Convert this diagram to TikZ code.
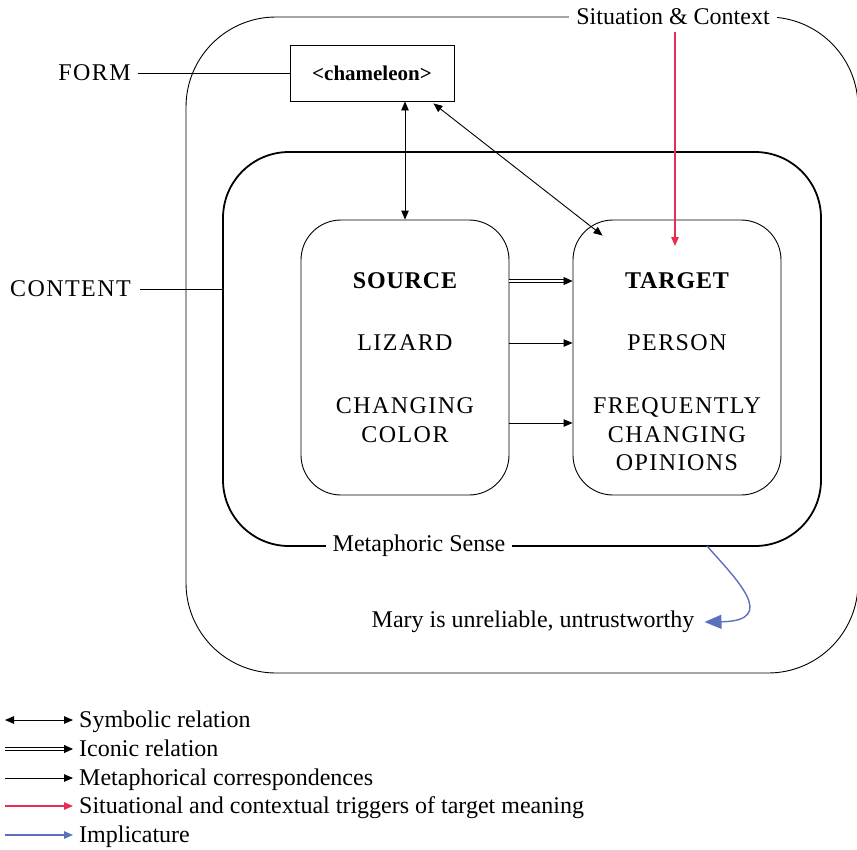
\documentclass[tikz,border=0pt]{standalone}
\usepackage{fontspec}
\setmainfont{Liberation Serif}
\usetikzlibrary{arrows.meta,calc}
\definecolor{trigred}{RGB}{232,44,84}
\definecolor{implblue}{RGB}{92,112,190}
\begin{document}
\begin{tikzpicture}[x=1pt,y=-1pt,
  txt/.style={font=\fontsize{24}{28}\selectfont, inner sep=0pt},
  capstxt/.style={font=\fontsize{24}{28}\selectfont\addfontfeatures{LetterSpace=6}, inner sep=0pt, anchor=base},
  capshead/.style={font=\fontsize{24}{28}\selectfont\bfseries\addfontfeatures{LetterSpace=3.5}, inner sep=0pt, anchor=base},
  labelgap/.style={txt, fill=white, inner xsep=7pt, inner ysep=2pt},
  keytxt/.style={txt, anchor=base west},
  oneway/.style={line width=0.9pt, -{Triangle[length=9pt,width=7.5pt]}},
  twoway/.style={line width=0.9pt, {Triangle[length=9pt,width=7.5pt]}-{Triangle[length=9pt,width=7.5pt]}},
  iconic/.style={double, double distance=2.2pt, line width=0.8pt, -{Triangle[length=9pt,width=8pt]}},
  trigger/.style={trigred, line width=1.3pt, -{Triangle[length=9pt,width=7.5pt]}},
  implic/.style={implblue, line width=1.4pt, -{Triangle[length=17pt,width=14pt]}},
  conceptbox/.style={draw, line width=0.9pt, rounded corners=40pt, minimum width=208pt, minimum height=275pt}
]
\useasboundingbox (0,0) rectangle (857,849);

% situation & context frame
\node[draw, line width=0.9pt, rounded corners=90pt, minimum width=672pt, minimum height=656pt] (situation) at (522,345) {};
\node[labelgap] (ctx) at (673,17) {Situation \& Context};

% form
\node[draw, line width=0.9pt, minimum width=164pt, minimum height=56pt, inner sep=0pt,
      font=\fontsize{21}{25}\selectfont\bfseries] (cham) at (372,73) {<chameleon>};
\node[capstxt, anchor=base east] (form) at (131,80) {FORM};
\draw[line width=0.8pt] (cham.west -| form.east) ++(7,0) -- (cham.west);

% content / metaphoric sense
\node[draw, line width=1.8pt, rounded corners=66pt, minimum width=598pt, minimum height=394pt] (sense) at (522,349) {};
\node[labelgap] (senselabel) at (419,546) {Metaphoric Sense};
\node[capstxt, anchor=base east] (content) at (131,296.5) {CONTENT};
\draw[line width=0.8pt] ($(content.base east)+(9,-7.5)$) -- ($(content.base east -| sense.west)+(0,-7.5)$);

% source and target domains
\node[conceptbox] (src) at (405,357.5) {};
\node[conceptbox] (tgt) at (677,357.5) {};

\node[capshead] (srchead) at (405,288.5) {SOURCE};
\node[capstxt] (lizard) at (405,350.5) {LIZARD};
\node[capstxt] (changing) at (405,413.5) {CHANGING};
\node[capstxt] (color) at (405,442) {COLOR};
\node[capshead] (tgthead) at (677,288.5) {TARGET};
\node[capstxt] (person) at (677,350.5) {PERSON};
\node[capstxt] (frequently) at (677,413.5) {FREQUENTLY};
\node[capstxt] (changing2) at (677,442) {CHANGING};
\node[capstxt] (opinions) at (677,470.5) {OPINIONS};

% relations
\draw[twoway] (src.north |- cham.south) -- (src.north);
\draw[twoway] ($(cham.south east)+(-21,2)$) -- ($(tgt.north west)+(30,16)$);
\draw[iconic] (src.east |- 0,281) -- (tgt.west |- 0,281);
\draw[oneway] (src.east |- 0,343) -- (tgt.west |- 0,343);
\draw[oneway] (src.east |- 0,423) -- (tgt.west |- 0,423);
\draw[trigger] (675,32) coordinate (trigstart) -- (675,246) coordinate (trigend);

% implicature
\node[txt] (mary) at (533,622) {Mary is unreliable, untrustworthy};
\coordinate (implstart) at (707,546);
\draw[implic] (implstart) .. controls (735,578) and (780,621) .. ($(mary.east)+(10,0)$);

% key
\node[keytxt] (k1) at (79,727.5) {Symbolic relation};
\node[keytxt] (k2) at (79,756.5) {Iconic relation};
\node[keytxt] (k3) at (79,785.5) {Metaphorical correspondences};
\node[keytxt] (k4) at (79,813.5) {Situational and contextual triggers of target meaning};
\node[keytxt] (k5) at (79,842.5) {Implicature};
\draw[twoway] (5,720) -- ($(k1.base west)+(-6,-7.5)$);
\draw[iconic] (5,749) -- ($(k2.base west)+(-6,-7.5)$);
\draw[oneway] (5,778) -- ($(k3.base west)+(-6,-7.5)$);
\draw[trigger] (5,806) -- ($(k4.base west)+(-6,-7.5)$);
\draw[implic, -{Triangle[length=9pt,width=7.5pt]}] (5,835) -- ($(k5.base west)+(-6,-7.5)$);
\end{tikzpicture}
\end{document}
